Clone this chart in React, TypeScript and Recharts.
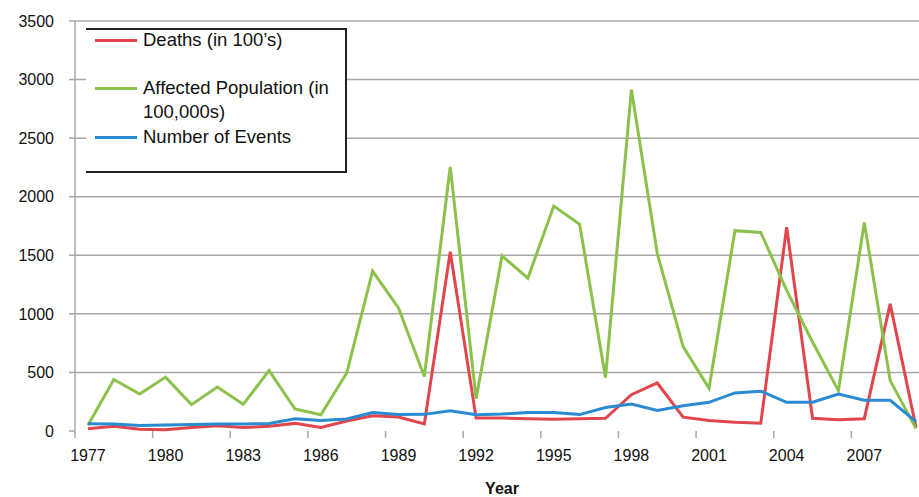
import React from 'react';
import { CartesianGrid, Legend, Line, LineChart, XAxis, YAxis } from 'recharts';

const years = [
  1977, 1978, 1979, 1980, 1981, 1982, 1983, 1984, 1985, 1986, 1987, 1988, 1989, 1990, 1991, 1992, 1993,
  1994, 1995, 1996, 1997, 1998, 1999, 2000, 2001, 2002, 2003, 2004, 2005, 2006, 2007, 2008, 2009,
];
const deaths = [
  20, 40, 15, 10, 30, 45, 30, 40, 65, 30, 85, 130, 120, 60, 1530, 110, 110, 105, 100, 105, 108, 310,
  410, 118, 90, 75, 66, 1740, 108, 95, 105, 1085, 30,
];
const affected = [
  50, 440, 315, 460, 225, 375, 228, 515, 188, 138, 495, 1365, 1050, 465, 2255, 275, 1495, 1305, 1920,
  1765, 455, 2915, 1515, 720, 365, 1710, 1695, 1200, 760, 345, 1780, 430, 20,
];
const events = [
  62, 60, 48, 52, 56, 60, 60, 64, 105, 90, 102, 158, 140, 142, 172, 138, 145, 158, 158, 140, 200, 230,
  175, 215, 245, 325, 340, 245, 245, 315, 262, 262, 80,
];
const xTicks = [1977, 1980, 1983, 1986, 1989, 1992, 1995, 1998, 2001, 2004, 2007];
const yTicks = [0, 500, 1000, 1500, 2000, 2500, 3000, 3500];

const data = years.map((year, i) => ({
  year,
  deaths: deaths[i],
  affected: affected[i],
  events: events[i],
}));

const RED = '#e0464b';
const GREEN = '#8cc24b';
const BLUE = '#2a8bd1';
const GRID = '#a8a8a8';
const FONT = "'Liberation Sans', Arial, sans-serif";

const CHART_W = 935;
const Y_W = 75;
const RIGHT = 6;
const HALF_YEAR = (CHART_W - Y_W - RIGHT) / years.length / 2;

const YearTick = (props: any) => {
  const { x, y, payload } = props;
  return (
    <g>
      <line x1={x - HALF_YEAR} y1={y - 14} x2={x - HALF_YEAR} y2={y - 7} stroke={GRID} strokeWidth={1.5} />
      <text x={x} y={y} dy={16} textAnchor="middle" fill="#111" fontSize={16} fontFamily={FONT}>
        {payload.value}
      </text>
    </g>
  );
};

const legendItems = [
  { color: RED, lines: ["Deaths (in 100’s)"], top: 11 },
  { color: GREEN, lines: ['Affected Population (in', '100,000s)'], top: 59 },
  { color: BLUE, lines: ['Number of Events'], top: 108 },
];

const LegendBox = () => (
  <div
    style={{
      position: 'relative',
      width: 261,
      height: 145,
      borderTop: '2px solid #222',
      borderRight: '2px solid #222',
      borderBottom: '2px solid #222',
      boxSizing: 'border-box',
      fontFamily: FONT,
      fontSize: 18.5,
      color: '#111',
      background: '#fff',
    }}
  >
    {legendItems.map((item) => (
      <div key={item.lines[0]}>
        <div
          style={{
            position: 'absolute',
            left: 9,
            top: item.top - 2,
            width: 42,
            height: 3,
            background: item.color,
          }}
        />
        {item.lines.map((t, j) => (
          <div
            key={t}
            style={{
              position: 'absolute',
              left: 57,
              top: item.top - 13 + j * 24,
              lineHeight: '24px',
              whiteSpace: 'nowrap',
            }}
          >
            {t}
          </div>
        ))}
      </div>
    ))}
  </div>
);

export default function App() {
  return (
    <div
      style={{
        position: 'absolute',
        left: 0,
        top: 0,
        width: 919,
        height: 497,
        overflow: 'hidden',
        background: '#fff',
      }}
    >
      <LineChart width={CHART_W} height={497} data={data} margin={{ top: 21, right: RIGHT, left: 0, bottom: 0 }}>
        <CartesianGrid
          vertical={false}
          horizontalValues={[500, 1000, 1500, 2000, 2500, 3000, 3500]}
          stroke={GRID}
          strokeWidth={1.5}
        />
        <XAxis
          dataKey="year"
          type="number"
          domain={[1976.5, 2009.5]}
          ticks={xTicks}
          interval={0}
          axisLine={false}
          tickLine={false}
          tickSize={6}
          tickMargin={8}
          height={66}
          tick={<YearTick />}
          label={{
            value: 'Year',
            position: 'insideBottom',
            offset: 3,
            fill: '#111',
            fontSize: 16,
            fontWeight: 'bold',
            fontFamily: FONT,
          }}
        />
        <YAxis
          domain={[0, 3500]}
          ticks={yTicks}
          width={Y_W}
          axisLine={{ stroke: GRID, strokeWidth: 1.5 }}
          tickLine={{ stroke: GRID, strokeWidth: 1.5 }}
          tickSize={6}
          tickMargin={15}
          tick={{ fill: '#111', fontSize: 16, fontFamily: FONT }}
        />
        <Legend
          verticalAlign="middle"
          align="center"
          layout="vertical"
          wrapperStyle={{ top: 28, left: 86, width: 261, height: 145 }}
          content={() => <LegendBox />}
        />
        <Line dataKey="deaths" stroke={RED} strokeWidth={3} dot={false} isAnimationActive={false} />
        <Line dataKey="affected" stroke={GREEN} strokeWidth={3} dot={false} isAnimationActive={false} />
        <Line dataKey="events" stroke={BLUE} strokeWidth={3} dot={false} isAnimationActive={false} />
      </LineChart>
    </div>
  );
}
